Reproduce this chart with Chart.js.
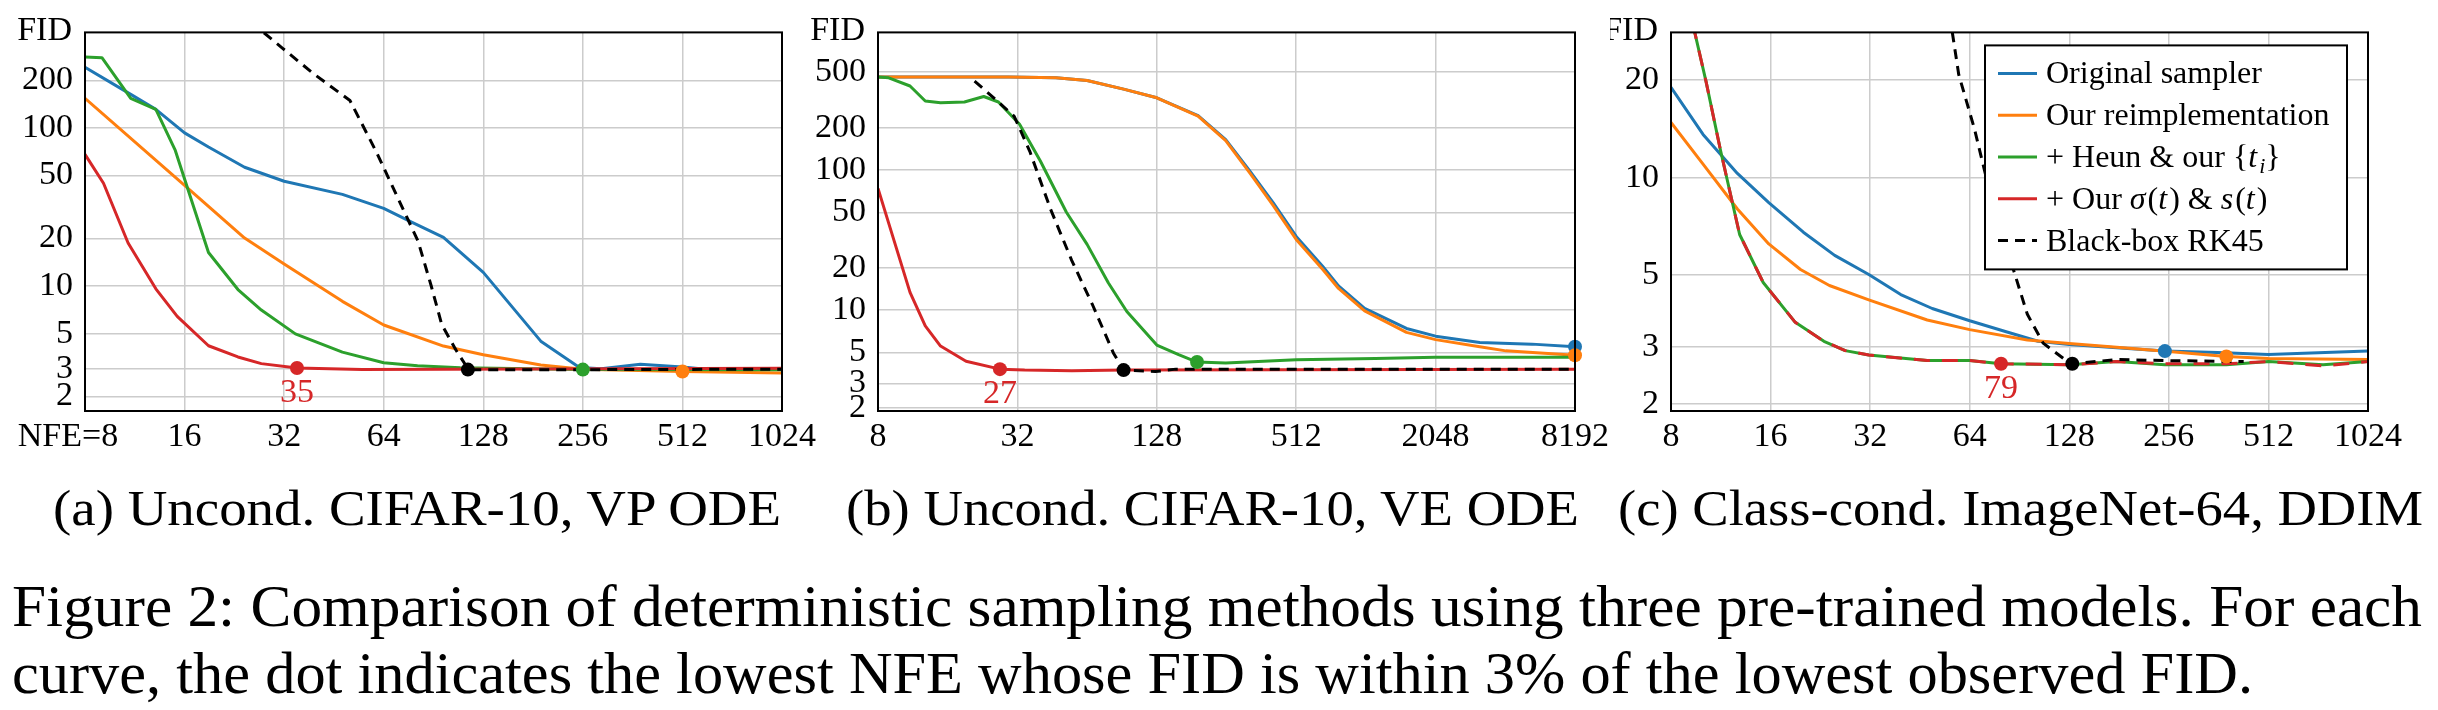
<!DOCTYPE html>
<html><head><meta charset="utf-8">
<script src="https://cdn.jsdelivr.net/npm/chart.js@4.4.1/dist/chart.umd.min.js"></script>
<style>
html,body{margin:0;padding:0;background:#fff;}
body{width:2438px;height:710px;position:relative;overflow:hidden;font-family:"Liberation Serif","Times New Roman",serif;color:#000;}
canvas{position:absolute;top:0;}
.sub{position:absolute;top:483px;font-size:50px;line-height:50px;white-space:nowrap;transform-origin:0 0;}
.fig{position:absolute;left:12px;font-size:59px;line-height:59px;white-space:nowrap;transform-origin:0 0;}
</style></head><body>
<canvas id="ca" width="830" height="460" style="left:0px"></canvas>
<canvas id="cb" width="830" height="460" style="left:800px"></canvas>
<canvas id="cc" width="828" height="460" style="left:1610px"></canvas>
<div class="sub" id="sa" style="left:53px">(a) Uncond. CIFAR-10, VP ODE</div>
<div class="sub" id="sb" style="left:846px">(b) Uncond. CIFAR-10, VE ODE</div>
<div class="sub" id="sc" style="left:1618px">(c) Class-cond. ImageNet-64, DDIM</div>
<div class="fig" id="f1" style="top:577px">Figure 2: Comparison of deterministic sampling methods using three pre-trained models. For each</div>
<div class="fig" id="f2" style="top:644px">curve, the dot indicates the lowest NFE whose FID is within 3% of the lowest observed FID.</div>
<script>
// ---------- DATA (NFE, FID) ----------
// Panel (a) Uncond. CIFAR-10, VP ODE
const a_original = [[8,242],[11,163],[13.1,131],[16,93],[18.9,75.7],[24.3,56.4],[32,46],[48,38],[64,31],[78,25.3],[97,20.3],[128,12.2],[191,4.48],[250,3.05],[291,3.0],[382,3.2],[512,3.08],[602,2.98],[1024,2.98]];
const a_reimpl   = [[8,154],[16,43.3],[24.3,20.1],[32,13.8],[48,8.0],[64,5.67],[97,4.17],[128,3.68],[191,3.17],[256,2.98],[512,2.88],[1024,2.82]];
const a_heun     = [[8,281],[9,278],[11,154],[13.1,131],[15,72],[18.9,16.3],[23.2,9.5],[27.3,7.05],[34.6,4.98],[48,3.82],[64,3.27],[81,3.13],[109,3.04],[256,2.96],[1024,2.95]];
const a_ours     = [[8,68],[9.1,44.7],[10.8,18.7],[13.1,9.6],[15.2,6.43],[18.9,4.19],[23.2,3.56],[27.3,3.23],[35,3.03],[55,2.96],[1024,3.02]];
const a_rk45     = [[27.8,400],[31.6,320],[39.3,220],[50.6,149],[60.8,70.5],[70.3,36.8],[81.3,19.2],[89.1,10],[95.8,5.73],[105.7,3.95],[112.8,3.2],[115,2.96],[168,2.95],[1024,2.98]];
const a_dots     = {ours:[35,3.03], rk45:[115,2.96], heun:[256,2.96], reimpl:[512,2.88]};
const a_label    = '35';
const a_xticks   = [8,16,32,64,128,256,512,1024];
const a_yticks   = [2,3,5,10,20,50,100,200];
const a_xrange   = [8,1024];
const a_yrange   = [1.62,402];

// Panel (b) Uncond. CIFAR-10, VE ODE
const b_original = [[8,462],[29.4,462],[46.9,455],[64,436],[92,378],[128,328],[193,245],[254,165],[322,99],[407,58.5],[512,33.6],[667,20.5],[780,14.9],[1011,10.3],[1533,7.41],[2048,6.53],[3177,5.88],[5345,5.73],[8192,5.49]];
const b_reimpl   = [[8,462],[29.4,462],[46.9,455],[64,436],[92,378],[128,328],[193,243],[254,162],[322,96],[407,56],[512,32],[667,19.5],[780,14.3],[1011,9.9],[1533,6.95],[2048,6.17],[3177,5.49],[4121,5.13],[8192,4.77]];
const b_heun     = [[8,462],[8.9,455],[11,398],[12.8,311],[14.9,302],[18.9,306],[22.9,335],[26.5,306],[32.7,212],[40.2,116],[52.1,50],[64,29.5],[79,15.7],[95,9.8],[128,5.64],[159,4.82],[191,4.27],[254,4.2],[512,4.44],[1122,4.52],[2048,4.61],[8192,4.61]];
const b_ours     = [[8,74],[9.4,31.1],[11,13.4],[12.8,7.73],[14.9,5.55],[19.2,4.33],[26.9,3.8],[34.4,3.74],[55,3.70],[92,3.74],[8192,3.80]];
const b_rk45     = [[20.9,431],[26.5,306],[31,242],[36.2,136],[44.5,52.6],[54.9,22.7],[67.6,10.9],[83.2,4.94],[92,3.74],[126,3.65],[155,3.8],[8192,3.8]];
const b_dots     = {ours:[26.9,3.8], rk45:[92,3.74], heun:[191,4.27], original:[8192,5.49], reimpl:[8192,4.77]};
const b_label    = '27';
const b_xticks   = [8,32,128,512,2048,8192];
const b_yticks   = [2,3,5,10,20,50,100,200,500];
const b_xrange   = [8,8192];
const b_yrange   = [1.91,960];

// Panel (c) Class-cond. ImageNet-64, DDIM
const c_original = [[8,19.0],[10,13.6],[12.7,10.3],[15.8,8.37],[20.1,6.78],[25,5.75],[31.7,5.02],[39.6,4.35],[49.3,3.94],[64,3.61],[82.5,3.34],[103,3.12],[128,3.05],[178,2.98],[249,2.91],[359,2.88],[512,2.84],[1024,2.91]];
const c_reimpl   = [[8,14.8],[10,11.0],[12.7,8.0],[15.8,6.24],[19.7,5.2],[24.1,4.64],[31.7,4.19],[47.6,3.63],[64,3.39],[95.6,3.15],[128,3.07],[178,2.99],[256,2.90],[382,2.80],[512,2.76],[1024,2.74]];
const c_heun     = [[9.3,30],[10.2,19.9],[11.3,12.1],[12.9,6.67],[15.2,4.74],[19,3.57],[23.2,3.12],[26.9,2.92],[31.7,2.83],[47.6,2.72],[64,2.72],[79.6,2.66],[128,2.64],[178,2.70],[249,2.64],[382,2.64],[512,2.70],[749,2.64],[1024,2.70]];
const c_ours     = [[9.3,30],[10.2,19.9],[11.3,12.1],[12.9,6.67],[15.2,4.74],[19,3.57],[23.2,3.12],[26.9,2.92],[31.7,2.83],[47.6,2.72],[64,2.72],[79.6,2.66],[128,2.64],[178,2.70],[249,2.66],[382,2.66],[512,2.70],[749,2.62],[1024,2.70]];
const c_rk45     = [[56.7,28.1],[59.3,20.8],[66.2,14.1],[71.3,10.3],[85.6,5.43],[95.6,3.78],[106.7,3.08],[123.6,2.75],[130.7,2.66],[178,2.74],[249,2.72],[431,2.70]];
const c_dots     = {ours:[79.6,2.66], rk45:[130.7,2.66], original:[249,2.91], reimpl:[382,2.80]};
const c_label    = '79';
const c_xticks   = [8,16,32,64,128,256,512,1024];
const c_yticks   = [2,3,5,10,20];
const c_xrange   = [8,1024];
const c_yrange   = [1.9,28.1];

// ---------- STYLE ----------
const COL = {original:'#1f77b4', reimpl:'#ff7f0e', heun:'#2ca02c', ours:'#d62728', rk45:'#000000'};
const FONT = '"Liberation Serif", serif';
const toXY = arr => arr.map(p => ({x:p[0], y:p[1]}));

function overlayPlugin(cfg){
  return {
    id:'overlay'+cfg.id,
    afterDraw(chart){
      const ctx = chart.ctx, ca = chart.chartArea;
      const xs = chart.scales.x, ys = chart.scales.y;
      ctx.save();
      ctx.strokeStyle = '#000'; ctx.lineWidth = 2;
      ctx.strokeRect(ca.left, ca.top, ca.right-ca.left, ca.bottom-ca.top);
      ctx.fillStyle = '#000';
      ctx.font = '34px ' + FONT;
      ctx.textAlign = 'right'; ctx.textBaseline = 'middle';
      ctx.fillText('FID', ca.left - 13, 31);
      const d = cfg.dots.ours;
      ctx.fillStyle = COL.ours; ctx.textAlign = 'center';
      ctx.fillText(cfg.label, xs.getPixelForValue(d[0]), ys.getPixelForValue(d[1]) + 25);
      if (cfg.legend) {
        const bx = ca.right - 21 - 362, by = ca.top + 13, bw = 362, bh = 224;
        ctx.fillStyle = '#fff'; ctx.fillRect(bx, by, bw, bh);
        ctx.strokeStyle = '#000'; ctx.lineWidth = 2; ctx.strokeRect(bx, by, bw, bh);
        const keys = ['original','reimpl','heun','ours','rk45'];
        const rich = [
          [['Original sampler',0]],
          [['Our reimplementation',0]],
          [['+ Heun & our {',0],['t',1],['i',2],['}',0]],
          [['+ Our ',0],['σ',1],['(',0],['t',1],[') & ',0],['s',1],['(',0],['t',1],[')',0]],
          [['Black-box RK45',0]]
        ];
        keys.forEach((k,i) => {
          const ly = by + 28 + i*41.8;
          ctx.beginPath();
          ctx.strokeStyle = COL[k]; ctx.lineWidth = 3;
          ctx.setLineDash(k==='rk45' ? [10,7] : []);
          ctx.moveTo(bx+13, ly); ctx.lineTo(bx+52, ly); ctx.stroke();
          ctx.setLineDash([]);
          let tx = bx + 61;
          ctx.fillStyle = '#000'; ctx.textAlign = 'left'; ctx.textBaseline = 'alphabetic';
          rich[i].forEach(seg => {
            const [t, st] = seg;
            ctx.font = (st ? 'italic ' : '') + (st===2 ? '22px ' : '32px ') + FONT;
            ctx.fillText(t, tx, ly + 10 + (st===2 ? 6 : 0));
            tx += ctx.measureText(t).width + (st===1 ? 2 : 0);
          });
        });
      }
      ctx.restore();
    }
  };
}

function makeChart(id, cfg){
  const datasets = [];
  const dotKeys = Object.keys(cfg.dots);
  datasets.push({
    label:'dots', data: dotKeys.map(k => ({x:cfg.dots[k][0], y:cfg.dots[k][1]})),
    showLine:false, pointRadius:7, pointHoverRadius:7, borderWidth:0,
    pointBackgroundColor: dotKeys.map(k => COL[k]), pointBorderColor: dotKeys.map(k => COL[k]),
    order:0, clip:false
  });
  const series = [['rk45',cfg.rk45,1],['ours',cfg.ours,2],['heun',cfg.heun,3],['reimpl',cfg.reimpl,4],['original',cfg.original,5]];
  series.forEach(([k,arr,o]) => {
    datasets.push({
      label:k, data:toXY(arr), borderColor:COL[k], backgroundColor:COL[k],
      borderWidth:3, pointRadius:0, tension:0, fill:false, order:o,
      borderDash: k==='rk45' ? [10,7] : (k==='ours' && cfg.redDash ? [16,12] : []),
      borderJoinStyle:'round'
    });
  });
  const tickFont = {family:FONT, size:34};
  return new Chart(document.getElementById(id), {
    type:'line',
    data:{datasets},
    options:{
      responsive:false, animation:false, devicePixelRatio:1,
      layout:{padding:{left:0, right:cfg.padRight, top:16, bottom:0}},
      plugins:{legend:{display:false}, tooltip:{enabled:false}},
      scales:{
        x:{
          type:'logarithmic', min:cfg.xrange[0], max:cfg.xrange[1],
          afterBuildTicks: s => { s.ticks = cfg.xticks.map(v => ({value:v})); },
          afterFit: s => { s.height = 49; },
          ticks:{autoSkip:false, maxRotation:0, padding:6, color:'#000', font:tickFont,
                 callback:(v,i) => (i===0 && cfg.nfeLabel) ? 'NFE=8\u2007\u2007' : String(v)},
          grid:{color:'#cccccc', lineWidth:1.5, drawTicks:false},
          border:{display:false}
        },
        y:{
          type:'logarithmic', min:cfg.yrange[0], max:cfg.yrange[1],
          afterBuildTicks: s => { s.ticks = cfg.yticks.map(v => ({value:v})); },
          afterFit: s => { s.width = cfg.yWidth; },
          ticks:{autoSkip:false, padding:12, color:'#000', font:tickFont, callback:v => String(v)},
          grid:{color:'#cccccc', lineWidth:1.5, drawTicks:false},
          border:{display:false}
        }
      }
    },
    plugins:[overlayPlugin(cfg)]
  });
}

function fitText(id, left, right){
  const el = document.getElementById(id);
  el.style.left = left + 'px';
  const w = el.getBoundingClientRect().width;
  el.style.transform = 'scaleX(' + ((right-left)/w) + ')';
}

function build(){
  makeChart('ca', {id:'a', original:a_original, reimpl:a_reimpl, heun:a_heun, ours:a_ours, rk45:a_rk45, dots:a_dots, label:a_label,
    xticks:a_xticks, yticks:a_yticks, xrange:a_xrange, yrange:a_yrange, yWidth:85, padRight:48, nfeLabel:true});
  makeChart('cb', {id:'b', original:b_original, reimpl:b_reimpl, heun:b_heun, ours:b_ours, rk45:b_rk45, dots:b_dots, label:b_label,
    xticks:b_xticks, yticks:b_yticks, xrange:b_xrange, yrange:b_yrange, yWidth:78, padRight:55});
  makeChart('cc', {id:'c', original:c_original, reimpl:c_reimpl, heun:c_heun, ours:c_ours, rk45:c_rk45, dots:c_dots, label:c_label,
    xticks:c_xticks, yticks:c_yticks, xrange:c_xrange, yrange:c_yrange, yWidth:61, padRight:70, legend:true, redDash:true});
  fitText('sa', 53, 781);
  fitText('sb', 846, 1579);
  fitText('sc', 1618, 2423);
  fitText('f1', 12, 2422);
  fitText('f2', 12, 2253);
}
Promise.all([
  document.fonts.load('34px "Liberation Serif"'),
  document.fonts.load('italic 32px "Liberation Serif"'),
  document.fonts.load('59px "Liberation Serif"')
]).then(build, build);
</script>
</body></html>
